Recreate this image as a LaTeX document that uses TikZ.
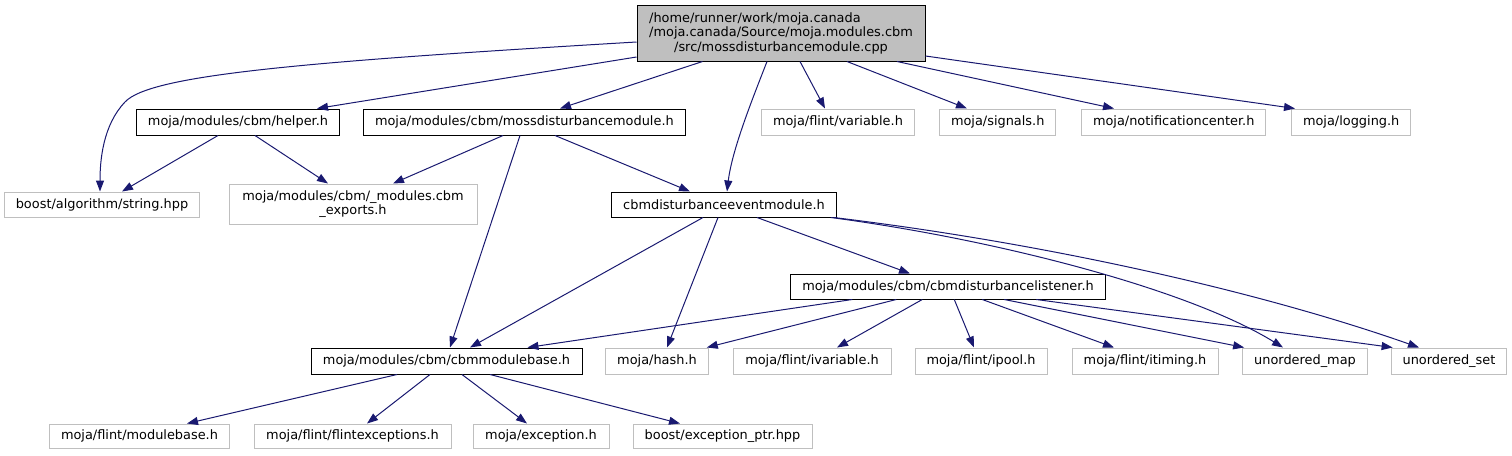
\documentclass[tikz,border=0pt]{standalone}
\usepackage{fontspec}
\setmainfont{DejaVu Sans}
\usetikzlibrary{arrows.meta,calc}
\definecolor{edgec}{HTML}{191970}
\definecolor{grayb}{HTML}{BFBFBF}
\tikzset{
  basebox/.style={draw, line width=1pt, inner ysep=0pt, inner xsep=11.5pt, minimum height=25pt, font=\fontsize{12.9}{14.5}\selectfont, text=black},
  inc/.style={basebox, draw=black},
  ext/.style={basebox, draw=grayb},
  dep/.style={draw=edgec, line width=1pt, -{Triangle[length=11pt,width=8pt]}},
}
\begin{document}
\begin{tikzpicture}[x=1pt,y=-1pt]
\useasboundingbox (0,0) rectangle (1512,455);
% row 0
\node[inc, fill=grayb, minimum width=288pt, minimum height=56pt, align=center] (root) at (781,33)
  {\rlap{/home/runner/work/moja.canada}\phantom{/moja.canada/Source/moja.modules.cbm}\\/moja.canada/Source/moja.modules.cbm\\/src/mossdisturbancemodule.cpp};
% row 1
\node[inc, minimum width=202pt, minimum height=26pt] (helper) at (238,122) {moja/modules/cbm/helper.h};
\node[inc, minimum height=26pt, anchor=west] (mossdist) at (363,122) {moja/modules/cbm/mossdisturbancemodule.h};
\node[ext, minimum height=26pt, anchor=west] (variable) at (761,122) {moja/flint/variable.h};
\node[ext, minimum height=26pt, anchor=west] (signals) at (939,122) {moja/signals.h};
\node[ext, minimum height=26pt, anchor=west] (notif) at (1081,122) {moja/notificationcenter.h};
\node[ext, minimum height=26pt, anchor=west] (logging) at (1291,122) {moja/logging.h};
% row 2
\node[ext, minimum width=194pt] (string) at (102,204.5) {boost/algorithm/string.hpp};
\node[ext, minimum width=248pt, minimum height=40pt, align=center] (exports) at (353,204) {moja/modules/cbm/\_modules.cbm\\\_exports.h};
\node[inc, minimum width=224pt] (event) at (724,204.5) {cbmdisturbanceeventmodule.h};
% row 3
\node[inc, minimum width=314pt] (listener) at (948,286.5) {moja/modules/cbm/cbmdisturbancelistener.h};
% row 4
\node[inc, minimum width=271pt, minimum height=26pt] (cbmbase) at (446.5,361) {moja/modules/cbm/cbmmodulebase.h};
\node[ext, minimum width=102pt, minimum height=26pt] (hash) at (657,361) {moja/hash.h};
\node[ext, minimum width=158pt, minimum height=26pt] (ivariable) at (812,361) {moja/flint/ivariable.h};
\node[ext, minimum width=132pt, minimum height=26pt] (ipool) at (981,361) {moja/flint/ipool.h};
\node[ext, minimum width=146pt, minimum height=26pt] (itiming) at (1145,361) {moja/flint/itiming.h};
\node[ext, minimum width=124pt, minimum height=26pt] (umap) at (1305,361) {unordered\_map};
\node[ext, minimum width=114pt, minimum height=26pt] (uset) at (1449,361) {unordered\_set};
% row 5
\node[ext, minimum width=179pt, minimum height=24pt] (modulebase) at (139.5,436) {moja/flint/modulebase.h};
\node[ext, minimum width=197pt, minimum height=24pt] (flintexc) at (352.5,436) {moja/flint/flintexceptions.h};
\node[ext, minimum width=136pt, minimum height=24pt] (exception) at (541,436) {moja/exception.h};
\node[ext, minimum width=179pt, minimum height=24pt] (excptr) at (722.5,436) {boost/exception\_ptr.hpp};
% edges from root
\draw[dep] ($(root.west)+(0,9)$) .. controls (300,62) and (150,75) .. (125,102) .. controls (103,125) and (100,160) .. ($(string.north)+(-2,0)$);
\draw[dep] ($(root.west)+(0,24)$) -- ($(helper.north)+(79,0)$);
\draw[dep] ($(root.south west)+(66,0)$) -- ($(mossdist.north west)+(197,0)$);
\draw[dep] ($(root.south)+(-14,0)$) .. controls (752,100) and (732,150) .. ($(event.north)+(3,0)$);
\draw[dep] ($(root.south)+(19,0)$) -- ($(variable.north west)+(64,0)$);
\draw[dep] ($(root.south)+(66,0)$) -- ($(signals.north west)+(28,0)$);
\draw[dep] ($(root.south)+(116,0)$) -- ($(notif.north west)+(33,0)$);
\draw[dep] ($(root.east)+(0,23)$) -- ($(logging.north west)+(4,0)$);
% helper
\draw[dep] ($(helper.south)+(-20,0)$) -- ($(string.north)+(20,0)$);
\draw[dep] ($(helper.south)+(17,0)$) -- ($(exports.north)+(-25,0)$);
% mossdist
\draw[dep] ($(mossdist.south west)+(140,0)$) -- ($(exports.north)+(40,0)$);
\draw[dep] ($(mossdist.south west)+(157,0)$) -- ($(cbmbase.north)+(3.5,0)$);
\draw[dep] ($(mossdist.south west)+(192,0)$) -- ($(event.north)+(-34,0)$);
% event
\draw[dep] ($(event.south)+(-21,0)$) -- ($(cbmbase.north)+(23.5,0)$);
\draw[dep] ($(event.south)+(-6,0)$) -- ($(hash.north)+(10,0)$);
\draw[dep] ($(event.south)+(33,0)$) -- ($(listener.north)+(-38,0)$);
\draw[dep] ($(event.south east)+(-6,0)$) .. controls (1000,240) and (1190,290) .. ($(umap.north)+(-22,0)$);
\draw[dep] ($(event.south east)+(-3,0)$) .. controls (1060,245) and (1270,295) .. ($(uset.north)+(-30,0)$);
% listener
\draw[dep] ($(listener.south west)+(62,0)$) -- ($(cbmbase.north east)+(-55,0)$);
\draw[dep] ($(listener.south west)+(106,0)$) -- ($(hash.north east)+(-2,0)$);
\draw[dep] ($(listener.south west)+(132,0)$) -- ($(ivariable.north)+(25,0)$);
\draw[dep] ($(listener.south west)+(164,0)$) -- ($(ipool.north)+(-7,0)$);
\draw[dep] ($(listener.south west)+(192,0)$) -- ($(itiming.north)+(-31,0)$);
\draw[dep] ($(listener.south west)+(214,0)$) -- ($(umap.north west)+(2,0)$);
\draw[dep] ($(listener.south west)+(246,0)$) -- ($(uset.north west)+(2,0)$);
% cbmbase
\draw[dep] ($(cbmbase.south)+(-49.5,0)$) -- ($(modulebase.north)+(47.5,0)$);
\draw[dep] ($(cbmbase.south)+(-16.5,0)$) -- ($(flintexc.north)+(14.5,0)$);
\draw[dep] ($(cbmbase.south)+(15.5,0)$) -- ($(exception.north)+(-14,0)$);
\draw[dep] ($(cbmbase.south)+(43.5,0)$) -- ($(excptr.north)+(-42.5,0)$);
\end{tikzpicture}
\end{document}
